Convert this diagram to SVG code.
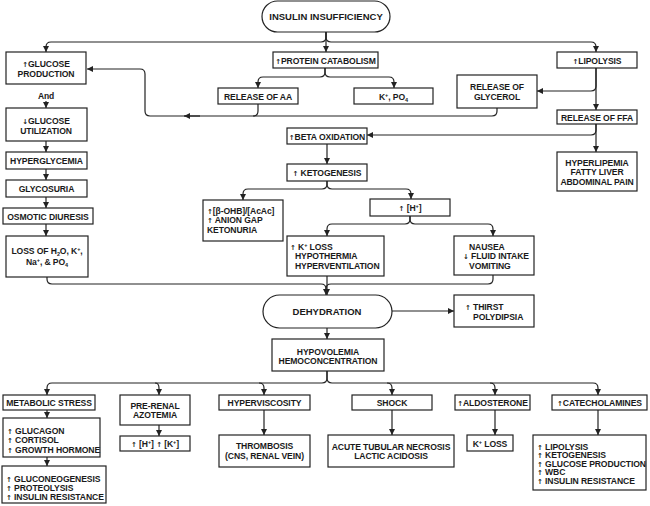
<svg xmlns="http://www.w3.org/2000/svg" width="650" height="506" viewBox="0 0 650 506">
<defs>
<marker id="ah" viewBox="0 0 8 8" refX="8" refY="4" markerWidth="6" markerHeight="6" markerUnits="userSpaceOnUse" orient="auto">
<path d="M0,0 L8,4 L0,8 z" fill="#222"/>
</marker>
<style>
rect,.pill{fill:#fff;stroke:#222;stroke-width:1.2}
text{font-family:"Liberation Sans",Arial,sans-serif;font-weight:bold;font-size:8.6px;fill:#1a1a1a;letter-spacing:-0.1px}
.c{text-anchor:middle}
.big{font-size:9.5px;letter-spacing:0}
.ar{font-family:"DejaVu Sans",sans-serif;font-size:7px;font-weight:bold}
.sp{font-size:5.5px}
#connectors path{fill:none;stroke:#222;stroke-width:1.2}
#connectors .a{marker-end:url(#ah)}
</style>
</defs>
<rect x="0" y="0" width="650" height="506" style="fill:#fff;stroke:none"/>

<g id="connectors">
<path class="a" d="M326,32 V37 Q326,42 321,42 H51 Q46,42 46,47 V52"/>
<path class="a" d="M326,32 V37 Q326,42 331,42 H591 Q596,42 596,47 V52"/>
<path class="a" d="M326,32 V52"/>
<path class="a" d="M325,68 V72 Q325,77 320,77 H263 Q258,77 258,82 V88"/>
<path class="a" d="M325,68 V72 Q325,77 330,77 H389 Q394,77 394,82 V88"/>
<path d="M258,104 V111 Q258,116 253,116"/>
<path class="a" d="M497,108 V111 Q497,116 492,116 H150 Q145,116 145,111 V74 Q145,69 140,69 H87"/>
<path class="a" d="M200,116 H184"/>
<path class="a" d="M46,101 V108"/>
<path class="a" d="M596,68 V86 Q596,91 591,91 H537"/>
<path class="a" d="M596,68 V110"/>
<path class="a" d="M596,124 V130 Q596,135 591,135 H367"/>
<path class="a" d="M596,124 V152"/>
<path class="a" d="M46,141 V152"/>
<path class="a" d="M46,169 V180"/>
<path class="a" d="M46,197 V208"/>
<path class="a" d="M46,224 V236"/>
<path class="a" d="M327,144 V164"/>
<path class="a" d="M327,181 V184 Q327,189 322,189 H248 Q243,189 243,194 V200"/>
<path class="a" d="M327,181 V184 Q327,189 332,189 H406 Q411,189 411,194 V199"/>
<path class="a" d="M410,216 V219 Q410,224 405,224 H332 Q327,224 327,229 V236"/>
<path class="a" d="M410,216 V219 Q410,224 415,224 H488 Q493,224 493,229 V236"/>
<path class="a" d="M47,277 V279 Q47,284 52,284 H321 Q326,284 326,289 V295"/>
<path d="M493,275 V279 Q493,284 488,284 H331 Q326,284 326,289"/>
<path class="a" d="M327,276 V295"/>
<path class="a" d="M392,311 H454"/>
<path class="a" d="M327,328 V339"/>
<path class="a" d="M327,371 V378 Q327,383 322,383 H52 Q47,383 47,388 V395"/>
<path class="a" d="M327,371 V378 Q327,383 332,383 H593 Q598,383 598,388 V395"/>
<path class="a" d="M155,383 Q159,383 159,388 V395"/>
<path class="a" d="M259,383 Q264,383 264,388 V395"/>
<path class="a" d="M387,383 Q392,383 392,388 V395"/>
<path class="a" d="M490,383 Q495,383 495,388 V395"/>
<path class="a" d="M47,410 V418"/>
<path class="a" d="M47,457 V466"/>
<path class="a" d="M159,425 V436"/>
<path class="a" d="M264,410 V435"/>
<path class="a" d="M392,410 V435"/>
<path class="a" d="M495,410 V435"/>
<path class="a" d="M598,410 V435"/>
</g>

<g id="insulin"><rect class="pill" x="262" y="1" width="128" height="31" rx="15.5"/><text class="c big" x="326" y="20">INSULIN INSUFFICIENCY</text></g>

<g id="glucose-production"><rect x="6" y="52" width="80" height="32"/><text class="c" x="46" y="67"><tspan class="ar">↑</tspan>GLUCOSE</text><text class="c" x="46" y="77">PRODUCTION</text></g>
<g id="and-label"><text class="c" x="46" y="99" style="font-size:8.5px">And</text></g>
<g id="glucose-utilization"><rect x="6" y="108" width="81" height="33"/><text class="c" x="46" y="123.5"><tspan class="ar">↓</tspan>GLUCOSE</text><text class="c" x="46" y="133.5">UTILIZATION</text></g>
<g id="hyperglycemia"><rect x="6" y="152" width="81" height="17"/><text class="c" x="46.5" y="164">HYPERGLYCEMIA</text></g>
<g id="glycosuria"><rect x="6" y="180" width="81" height="17"/><text class="c" x="46.5" y="192">GLYCOSURIA</text></g>
<g id="osmotic"><rect x="3" y="208" width="90" height="16"/><text class="c" x="48" y="219.5">OSMOTIC DIURESIS</text></g>
<g id="loss"><rect x="6" y="236" width="82" height="41"/><text class="c" x="47" y="254">LOSS OF H<tspan class="sp" baseline-shift="-2">2</tspan>O, K<tspan class="sp" baseline-shift="3">+</tspan>,</text><text class="c" x="47" y="265">Na<tspan class="sp" baseline-shift="3">+</tspan>, &amp; PO<tspan class="sp" baseline-shift="-2">4</tspan></text></g>

<g id="protein"><rect x="273" y="52" width="105" height="16"/><text class="c" x="325.5" y="63.5"><tspan class="ar">↑</tspan>PROTEIN CATABOLISM</text></g>
<g id="release-aa"><rect x="218" y="88" width="80" height="16"/><text class="c" x="258" y="99.5">RELEASE OF AA</text></g>
<g id="k-po4"><rect x="354" y="88" width="79" height="16"/><text class="c" x="393.5" y="99.5">K<tspan class="sp" baseline-shift="3">+</tspan>, PO<tspan class="sp" baseline-shift="-2">4</tspan></text></g>
<g id="glycerol"><rect x="457" y="75" width="80" height="33"/><text class="c" x="497" y="89.5">RELEASE OF</text><text class="c" x="497" y="99.5">GLYCEROL</text></g>
<g id="lipolysis"><rect x="557" y="52" width="80" height="16"/><text class="c" x="597" y="63.5"><tspan class="ar">↑</tspan>LIPOLYSIS</text></g>
<g id="ffa"><rect x="557" y="110" width="80" height="14"/><text class="c" x="597" y="120.5">RELEASE OF FFA</text></g>
<g id="hyperlipemia"><rect x="557" y="152" width="80" height="39"/><text class="c" x="597" y="165.5">HYPERLIPEMIA</text><text class="c" x="597" y="175">FATTY LIVER</text><text class="c" x="597" y="184.5">ABDOMINAL PAIN</text></g>

<g id="beta"><rect x="287" y="128" width="80" height="16"/><text class="c" x="327" y="139.5"><tspan class="ar">↑</tspan>BETA OXIDATION</text></g>
<g id="ketogenesis"><rect x="287" y="164" width="80" height="17"/><text class="c" x="327" y="176"><tspan class="ar">↑</tspan> KETOGENESIS</text></g>
<g id="ohb"><rect x="203" y="200" width="80" height="41"/><text x="207" y="213.5"><tspan class="ar">↑</tspan>[β-OHB]/[AcAc]</text><text x="207" y="223"><tspan class="ar">↑</tspan> ANION GAP</text><text x="207" y="232.5">KETONURIA</text></g>
<g id="h-plus"><rect x="370" y="199" width="80" height="17"/><text class="c" x="410" y="211"><tspan class="ar">↑</tspan> [H<tspan class="sp" baseline-shift="3">+</tspan>]</text></g>
<g id="k-loss"><rect x="287" y="236" width="97" height="40"/><text x="290" y="249.5"><tspan class="ar">↑</tspan> K<tspan class="sp" baseline-shift="3">+</tspan> LOSS</text><text x="295" y="259">HYPOTHERMIA</text><text x="295" y="268.5">HYPERVENTILATION</text></g>
<g id="nausea"><rect x="454" y="236" width="80" height="39"/><text x="469" y="249.5">NAUSEA</text><text x="463" y="259"><tspan class="ar">↓</tspan> FLUID INTAKE</text><text x="469" y="268.5">VOMITING</text></g>

<g id="dehydration"><rect class="pill" x="263" y="295" width="129" height="33" rx="16.5"/><text class="c big" x="327" y="315">DEHYDRATION</text></g>
<g id="thirst"><rect x="454" y="295" width="80" height="32"/><text x="465" y="309.5"><tspan class="ar">↑</tspan> THIRST</text><text x="473" y="319.5">POLYDIPSIA</text></g>
<g id="hypovolemia"><rect x="272" y="339" width="112" height="32"/><text class="c" x="328" y="354.5">HYPOVOLEMIA</text><text class="c" x="328" y="364">HEMOCONCENTRATION</text></g>

<g id="metabolic"><rect x="3" y="395" width="92" height="15"/><text class="c" x="49" y="406">METABOLIC STRESS</text></g>
<g id="prerenal"><rect x="120" y="395" width="70" height="30"/><text class="c" x="155" y="408.5">PRE-RENAL</text><text class="c" x="155" y="418">AZOTEMIA</text></g>
<g id="hyperviscosity"><rect x="219" y="395" width="91" height="15"/><text class="c" x="264.5" y="406">HYPERVISCOSITY</text></g>
<g id="shock"><rect x="352" y="395" width="80" height="15"/><text class="c" x="392" y="406">SHOCK</text></g>
<g id="aldosterone"><rect x="455" y="395" width="75" height="15"/><text class="c" x="492.5" y="406"><tspan class="ar">↑</tspan>ALDOSTERONE</text></g>
<g id="catecholamines"><rect x="552" y="395" width="95" height="15"/><text class="c" x="599.5" y="406"><tspan class="ar">↑</tspan>CATECHOLAMINES</text></g>

<g id="glucagon"><rect x="3" y="418" width="97" height="39"/><text x="7" y="433.5"><tspan class="ar">↑</tspan> GLUCAGON</text><text x="7" y="443"><tspan class="ar">↑</tspan> CORTISOL</text><text x="7" y="452.5"><tspan class="ar">↑</tspan> GROWTH HORMONE</text></g>
<g id="gluconeogenesis"><rect x="2" y="466" width="104" height="37"/><text x="6" y="481.5"><tspan class="ar">↑</tspan> GLUCONEOGENESIS</text><text x="6" y="490.5"><tspan class="ar">↑</tspan> PROTEOLYSIS</text><text x="6" y="499.5"><tspan class="ar">↑</tspan> INSULIN RESISTANCE</text></g>
<g id="hk"><rect x="120" y="436" width="70" height="15"/><text class="c" x="155" y="447"><tspan class="ar">↑</tspan> [H<tspan class="sp" baseline-shift="3">+</tspan>]  <tspan class="ar">↑</tspan> [K<tspan class="sp" baseline-shift="3">+</tspan>]</text></g>
<g id="thrombosis"><rect x="219" y="435" width="91" height="32"/><text class="c" x="264.5" y="448.5">THROMBOSIS</text><text class="c" x="264.5" y="458.5">(CNS, RENAL VEIN)</text></g>
<g id="atn"><rect x="328" y="435" width="126" height="32"/><text class="c" x="391" y="449.5">ACUTE TUBULAR NECROSIS</text><text class="c" x="391" y="458.5">LACTIC ACIDOSIS</text></g>
<g id="k-loss-2"><rect x="467" y="435" width="46" height="16"/><text class="c" x="490" y="446.5">K<tspan class="sp" baseline-shift="3">+</tspan> LOSS</text></g>
<g id="cat-effects"><rect x="533" y="435" width="113" height="55"/><text x="537" y="449.5"><tspan class="ar">↑</tspan> LIPOLYSIS</text><text x="537" y="458"><tspan class="ar">↑</tspan> KETOGENESIS</text><text x="537" y="466.5"><tspan class="ar">↑</tspan> GLUCOSE PRODUCTION</text><text x="537" y="475"><tspan class="ar">↑</tspan> WBC</text><text x="537" y="483.5"><tspan class="ar">↑</tspan> INSULIN RESISTANCE</text></g>
</svg>
